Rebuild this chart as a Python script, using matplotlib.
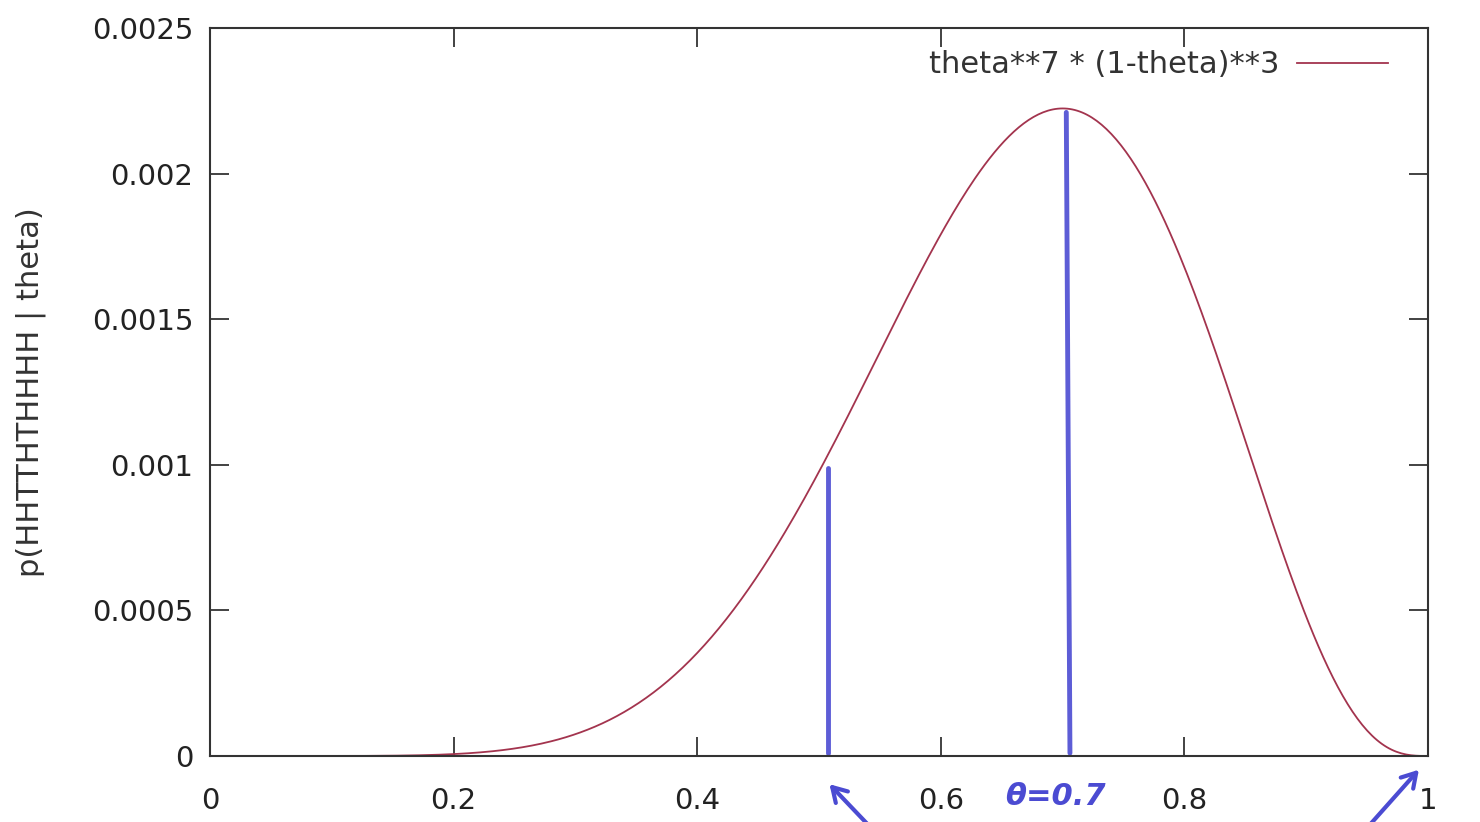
import matplotlib.pyplot as plt
import numpy as np

# likelihood curve, as named in the legend of the plot
theta = np.linspace(0, 1, 501)
likelihood = theta**7 * (1 - theta)**3
curve_label = 'theta**7 * (1-theta)**3'

# hand drawn marks on top of the plot (x, top y)
marks_x = [0.507, 0.706]
marks_top = [0.00099, 0.00221]
marks_tilt = [0.0, 0.003]

xticks = [0, 0.2, 0.4, 0.6, 0.8, 1]
xticklabels = ['0', '0.2', '0.4', '0.6', '0.8', '1']
yticks = [0, 0.0005, 0.001, 0.0015, 0.002, 0.0025]
yticklabels = ['0', '0.0005', '0.001', '0.0015', '0.002', '0.0025']

pen = '#4b4bd2'

fig = plt.figure(figsize=(14.8, 8.22), dpi=100)
ax = fig.add_axes([0.1419, 0.0803, 0.8230, 0.8857])

ax.plot(theta, likelihood, color='#a3344e', lw=1.3, label=curve_label)

for x, top, tilt in zip(marks_x, marks_top, marks_tilt):
    ax.plot([x - tilt, x], [top, 0.00001], color=pen, lw=3.5,
            solid_capstyle='round', alpha=0.9)

ax.set_xlim(0, 1)
ax.set_ylim(0, 0.0025)
ax.set_xticks(xticks)
ax.set_xticklabels(xticklabels)
ax.set_yticks(yticks)
ax.set_yticklabels(yticklabels)
ax.tick_params(direction='in', length=14, width=1.2, labelsize=21,
               colors='#222222', top=True, right=True, pad=12)
ax.tick_params(axis='x', pad=22)
for s in ax.spines.values():
    s.set_linewidth(1.5)
    s.set_color('#333333')

ax.set_ylabel('p(HHTTHTHHHH | theta)', fontsize=22, color='#333333')
ax.yaxis.set_label_coords(-0.135, 0.5)

leg = ax.legend(loc='upper right', frameon=False, fontsize=22, markerfirst=False,
                handlelength=3.0, handletextpad=0.55,
                bbox_to_anchor=(0.990, 1.007))
for t in leg.get_texts():
    t.set_color('#333333')

# arrows and note drawn below the axis
ax.annotate('', xy=(0.507, -0.00009), xytext=(0.548, -0.00027),
            arrowprops=dict(arrowstyle='->,head_length=1.0,head_width=0.6',
                            color=pen, lw=3), annotation_clip=False)
ax.annotate('', xy=(0.994, -0.00004), xytext=(0.945, -0.00027),
            arrowprops=dict(arrowstyle='->,head_length=1.0,head_width=0.6',
                            color=pen, lw=3), annotation_clip=False)
ax.text(0.694, -0.00014, '\u03b8=0.7', color=pen, fontsize=22,
        fontweight='bold', style='italic', ha='center', va='center',
        clip_on=False)

fig.savefig('out.png', dpi=100)
